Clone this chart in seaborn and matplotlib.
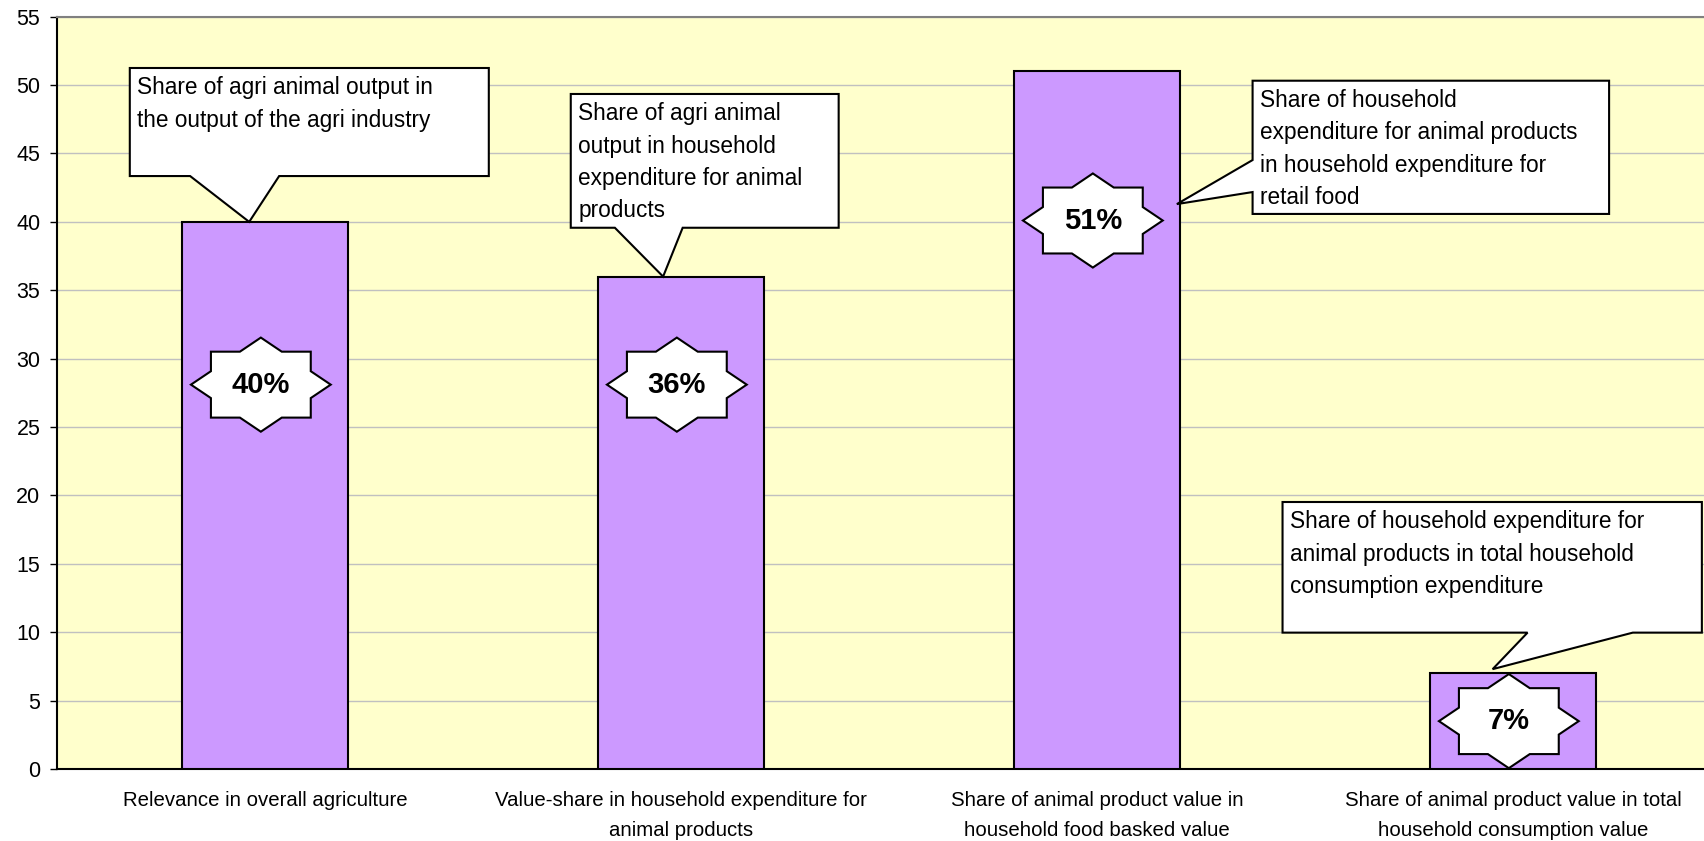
import matplotlib.pyplot as plt
import seaborn as sns
import pandas as pd
from matplotlib.patches import Polygon

# chart data
categories = [
    'Relevance in overall agriculture',
    'Value-share in household expenditure for\nanimal products',
    'Share of animal product value in\nhousehold food basked value',
    'Share of animal product value in total\nhousehold consumption value',
]
shares = [40, 36, 51, 7]
callout_texts = [
    'Share of agri animal output in\nthe output of the agri industry',
    'Share of agri animal\noutput in household\nexpenditure for animal\nproducts',
    'Share of household\nexpenditure for animal products\nin household expenditure for\nretail food',
    'Share of household expenditure for\nanimal products in total household\nconsumption expenditure',
]
y_ticks = list(range(0, 56, 5))

# layout of the annotations (data units)
star_y = [28.1, 28.1, 40.1, 3.5]
callout_boxes = [(-0.325, 43.35, 0.538, 51.25), (0.735, 39.57, 1.379, 49.35),
                 (2.374, 40.58, 3.231, 50.32), (2.446, 9.97, 3.454, 19.52)]
callout_sides = ['bottom', 'bottom', 'left', 'bottom']
callout_bases = [(-0.180, 0.034), (0.841, 1.004), (44.52, 42.18), (3.035, 3.288)]
tip_dx = [-0.038, -0.043, 0.192, -0.049]
tip_dy = [0.0, 0.0, -9.7, 0.3]

df = pd.DataFrame({'category': categories, 'share': shares})

sns.set_style('white')
plt.rcParams['font.family'] = ['Liberation Sans', 'DejaVu Sans']
plt.rcParams['text.color'] = 'black'
plt.rcParams['xtick.color'] = 'black'
plt.rcParams['ytick.color'] = 'black'

fig = plt.figure(figsize=(17.04, 8.41), dpi=100)
ax = fig.add_axes([57 / 1704, 72 / 841, 1664 / 1704, 752.3 / 841])
ax.set_facecolor('#FFFFCC')

sns.barplot(data=df, x='category', y='share', color='#CC99FF', saturation=1,
            edgecolor='black', linewidth=1.5, width=0.4, ax=ax, zorder=3)

ax.set_xlim(-0.5, 3.5)
ax.set_ylim(0, 55)
ax.set_yticks(y_ticks)
ax.set_yticklabels([str(t) for t in y_ticks], fontsize=15.5)
ax.yaxis.grid(True, color='#C0C0C0', linewidth=1)
ax.set_axisbelow(True)

# category ticks between bars, labels centred under bars
ax.set_xticks([-0.5, 0.5, 1.5, 2.5, 3.5])
ax.set_xticklabels([])
ax.set_xticks(range(len(categories)), minor=True)
ax.set_xticklabels(categories, minor=True, fontsize=14.7, linespacing=1.7)
ax.tick_params(axis='x', which='major', direction='out', length=6, width=1, color='black')
ax.tick_params(axis='x', which='minor', length=0, pad=16)
ax.tick_params(axis='y', direction='out', length=5, width=1, color='black', left=True, pad=7)
ax.set_xlabel('')
ax.set_ylabel('')

for side in ['left', 'bottom']:
    ax.spines[side].set_color('black')
    ax.spines[side].set_linewidth(1.5)
ax.spines['top'].set_color('#808080')
ax.spines['top'].set_linewidth(1.5)
ax.spines['right'].set_visible(False)


def draw_star(ax, cx, cy, label):
    w, h = 0.168, 3.44   # diamond half sizes
    a, b = 0.120, 2.41   # square half sizes
    ix = w * (1 - b / h)
    iy = h * (1 - a / w)
    q = [(0, h), (ix, b), (a, b), (a, iy), (w, 0)]
    right = q + [(x, -y) for x, y in reversed(q[:-1])]
    left = [(-x, y) for x, y in reversed(right[1:-1])]
    pts = [(cx + x, cy + y) for x, y in right + left]
    ax.add_patch(Polygon(pts, closed=True, facecolor='white', edgecolor='black',
                         linewidth=1.5, zorder=5, clip_on=False))
    ax.text(cx, cy, label, ha='center', va='center', fontsize=21,
            fontweight='bold', color='black', zorder=6)


def draw_callout(ax, box, side, base, tip, text):
    x0, y0, x1, y1 = box
    b1, b2 = base
    if side == 'bottom':
        pts = [(x0, y1), (x1, y1), (x1, y0), (b2, y0), tip, (b1, y0), (x0, y0)]
    else:
        pts = [(x0, y1), (x1, y1), (x1, y0), (x0, y0), (x0, b2), tip, (x0, b1)]
    ax.add_patch(Polygon(pts, closed=True, facecolor='white', edgecolor='black',
                         linewidth=1.5, zorder=5, clip_on=False))
    ax.text(x0 + 0.018, y1 - 0.6, text, ha='left', va='top', fontsize=16.3,
            linespacing=1.52, color='black', zorder=6)


for i, v in enumerate(shares):
    draw_star(ax, i - 0.01, star_y[i], f'{v}%')
    tip = (i + tip_dx[i], v + tip_dy[i])
    draw_callout(ax, callout_boxes[i], callout_sides[i], callout_bases[i], tip,
                 callout_texts[i])

fig.savefig('out.png', dpi=100)
